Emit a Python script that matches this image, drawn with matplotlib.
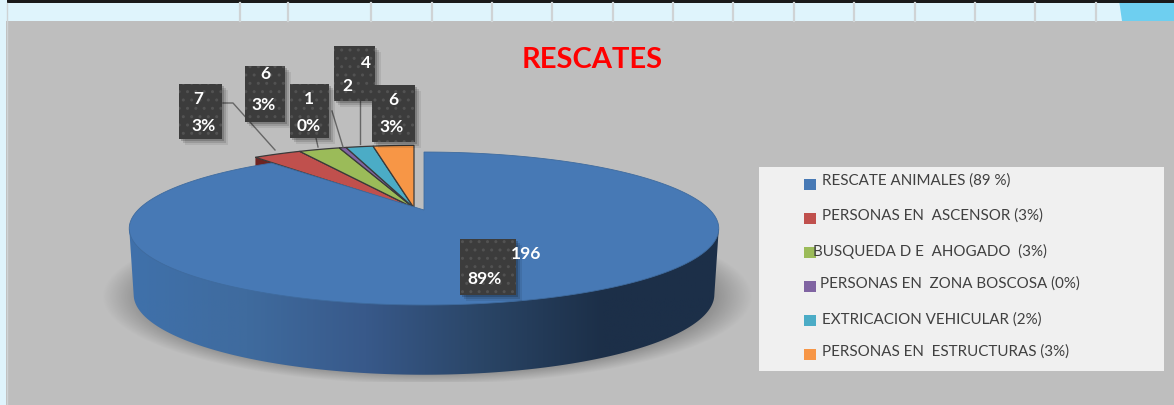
import numpy as np
import matplotlib
matplotlib.use('Agg')
import matplotlib.pyplot as plt
from matplotlib.patches import Polygon, Rectangle
from matplotlib.colors import LinearSegmentedColormap

# Data
categorias = ['RESCATE ANIMALES (89 %)', 'PERSONAS EN  ASCENSOR (3%)', 'BUSQUEDA D E  AHOGADO  (3%)',
              'PERSONAS EN  ZONA BOSCOSA (0%)', 'EXTRICACION VEHICULAR (2%)', 'PERSONAS EN  ESTRUCTURAS (3%)']
valores = [196, 7, 6, 1, 4, 6]
porcentajes = ['89%', '3%', '3%', '0%', '2', '3%']
colores = ['#4779b5', '#c0504d', '#9bbb59', '#8064a2', '#4bacc6', '#f79646']

plt.rcParams['font.family'] = ['Lato', 'DejaVu Sans']
plt.rcParams['hatch.linewidth'] = 1.0

fig = plt.figure(figsize=(11.74, 4.05), dpi=100, facecolor='#bebebe')
ax = fig.add_axes([0, 0, 1, 1])
ax.axis('off')


def proyectar(ang, cx, cy, sx=1.0, sy=1.0, dy=0.0):
    # perspective of the unit circle, angle clockwise from 12 o'clock
    x = np.sin(ang)
    y = -np.cos(ang)
    w = 1 - 0.242 * y
    return cx + 286 * sx * x / w, cy + 72 * sy * y / w + dy


# Slide background
ax.add_patch(Rectangle((0, 0), 6, 405, color='#dff4fc', lw=0))
ax.add_patch(Rectangle((0, 0), 1174, 21, color='#dff4fc', lw=0))
for xg in [240, 288, 371, 432, 492, 552, 613, 673, 733, 794, 854, 915, 975, 1035, 1096]:
    ax.plot([xg, xg], [3, 21], color='#cfd3d5', lw=1.6)
ax.plot([6.5, 6.5], [3, 405], color='#cfd3d5', lw=1)
ax.add_patch(Polygon([(1119, 0), (1174, 0), (1174, 21), (1122, 21)], color='#6ecff0', lw=0))
ax.add_patch(Rectangle((7, 0), 1167, 3, color='#1a1a1a', lw=0))

# Soft shadow under the pie
xx, yy = np.meshgrid(np.arange(90, 770), np.arange(200, 382))
dist = np.sqrt(((xx - 427) / 325) ** 2 + ((yy - 296) / 88) ** 2)
sombra = np.clip((1.0 - dist) / 0.17, 0, 1) * 0.55
rgba = np.zeros(xx.shape + (4,))
rgba[..., :3] = 0.28
rgba[..., 3] = sombra
ax.imshow(rgba, extent=(90, 770, 382, 200), aspect='auto', zorder=1)

# Angles from the values
total = sum(valores)
fin = np.cumsum(valores) / total * 2 * np.pi
ini = np.r_[0, fin[:-1]]
cx_azul, cy_azul = 424, 210
cx_peq, cy_peq = 414, 208

# Side wall of the big slice
ts = np.linspace(np.pi * 0.58, np.pi * 1.42, 200)
xb, yb = proyectar(ts, cx_azul, cy_azul, sx=0.985, sy=1.05, dy=65)
xt, yt = proyectar(np.array([np.pi * 1.42, np.pi * 0.58]), cx_azul, cy_azul)
borde = [(xt[0], yt[0])] + list(zip(xb[::-1], yb[::-1])) + [(xt[1], yt[1])]
grad = LinearSegmentedColormap.from_list('lado', ['#3f71ab', '#3f6b9e', '#38598a', '#2a4566', '#1c2f48', '#1c2f48'])
im = ax.imshow(np.linspace(0, 1, 256)[None, :], cmap=grad, extent=(128, 722, 380, 220), aspect='auto', zorder=2)
clip = Polygon(borde, transform=ax.transData, fc='none', ec='none')
ax.add_patch(clip)
im.set_clip_path(clip)

# Small slices, pulled out of the pie
oscuros = ['#6e2422', '#5a7030', '#4a3a60', '#2b6474', '#8f5526']
for a0, a1, c, oc in zip(ini[1:], fin[1:], colores[1:], oscuros):
    t = np.linspace(a0, a1, 30)
    px, py = proyectar(t, cx_peq, cy_peq, sx=1.04, sy=1.08)
    lx, ly = proyectar(a0, cx_peq, cy_peq, sx=1.04, sy=1.08)
    ax.add_patch(Polygon([(cx_peq, cy_peq), (lx, ly), (lx, ly + 12), (cx_peq, cy_peq + 12)], fc=oc, lw=0, zorder=3))
    ax.add_patch(Polygon([(cx_peq, cy_peq)] + list(zip(px, py)), fc=c, ec='#3a3a3a', lw=0.9, zorder=4))

# Big slice on top
t = np.linspace(ini[0], fin[0], 400)
px, py = proyectar(t, cx_azul, cy_azul)
ax.add_patch(Polygon([(cx_azul, cy_azul)] + list(zip(px, py)), fc=colores[0], ec='#3f6b9e', lw=0.6, zorder=5))

# Leader lines
lineas = [([223, 233, 275], [103, 103, 150]), ([316, 318], [138, 147]),
          ([332, 343], [111, 147]), ([360, 360], [101, 144])]
for lx, ly in lineas:
    ax.plot(lx, ly, color='#666666', lw=1.0, zorder=6)

# Data labels
cajas = [(460, 239, 56, 56), (179, 84, 43, 55), (245, 66, 40, 56), (290, 84, 39, 54), (334, 46, 41, 55), (372, 85, 43, 57)]
pos_valor = [(526, 254), (198, 99), (265, 74), (309, 99), (366, 63), (393, 100)]
pos_pct = [(485, 279), (204, 126), (264, 105), (309, 126), (347, 86), (392, 127)]
for (bx, by, bw, bh), v, p, pv, pp in zip(cajas, valores, porcentajes, pos_valor, pos_pct):
    for d, al in [(6, 0.08), (4, 0.12), (2, 0.18)]:
        ax.add_patch(Rectangle((bx + d, by + d), bw, bh, fc='black', alpha=al, lw=0, zorder=7))
    ax.add_patch(Rectangle((bx, by), bw, bh, fc='#3c3c3c', ec='none', zorder=8))
    ax.add_patch(Rectangle((bx, by), bw, bh, fc='none', ec='#525252', hatch='..', lw=0, zorder=8))
    ax.text(pv[0], pv[1], str(v), color='white', fontsize=12.5, fontweight='bold', ha='center', va='center', zorder=9)
    ax.text(pp[0], pp[1], p, color='white', fontsize=12.5, fontweight='bold', ha='center', va='center', zorder=9)

# Title
ax.text(592, 60, 'RESCATES', color='#ff0000', fontsize=21, fontweight='bold', ha='center', va='center', zorder=9)

# Legend
ax.add_patch(Rectangle((759, 167), 405, 204, fc='#f0f0f0', lw=0, zorder=2))
ley_y = [184, 218, 252, 286, 320, 354]
txt_x = [822, 822, 813, 820, 822, 822]
txt_y = [181, 216, 251, 284, 320, 352]
for c, nombre, ym, tx, ty in zip(colores, categorias, ley_y, txt_x, txt_y):
    ax.add_patch(Rectangle((804, ym - 5.5), 12, 11, fc=c, lw=0, zorder=3))
    ax.text(tx, ty, nombre, color='#404040', fontsize=10.9, ha='left', va='center', zorder=4)

ax.set_xlim(0, 1174)
ax.set_ylim(405, 0)
fig.savefig('out.png', dpi=100, facecolor=fig.get_facecolor())
